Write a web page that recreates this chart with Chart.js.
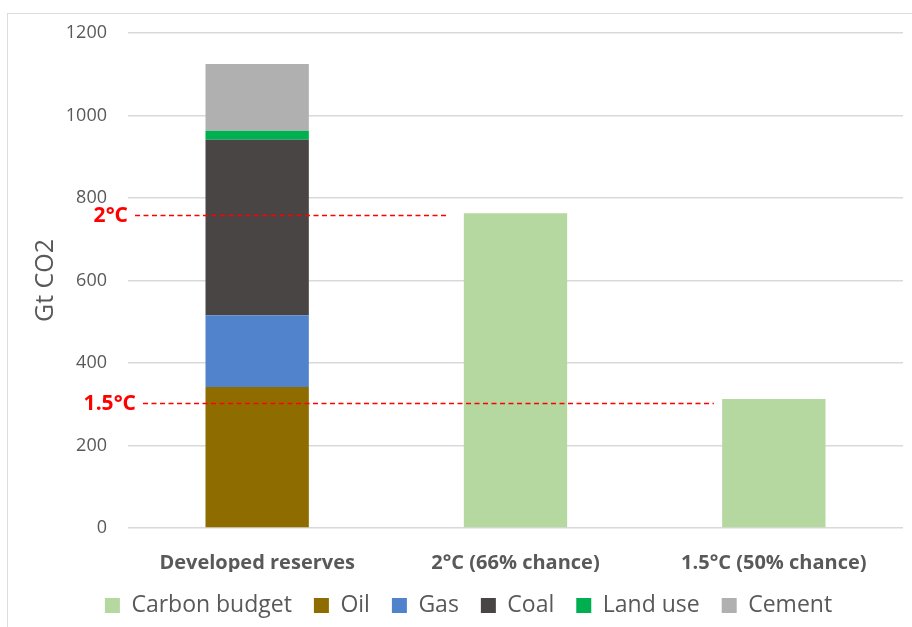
<!DOCTYPE html>
<html>
<head>
<meta charset="utf-8">
<script src="https://cdn.jsdelivr.net/npm/chart.js@4.4.1/dist/chart.umd.min.js"></script>
<style>
  html, body { margin: 0; padding: 0; background: #fff; }
  #wrap { position: relative; width: 912px; height: 627px; overflow: hidden; }
  /* thin frame round the chart, cut off at right and bottom */
  #frame { position: absolute; left: 7px; top: 13px; width: 1000px; height: 1000px;
           border-left: 1.5px solid #dcdcdc; border-top: 1.5px solid #dcdcdc; }
  #budgetChart { position: absolute; left: 0; top: 0; }
</style>
</head>
<body>
<div id="wrap">
  <div id="frame"></div>
  <canvas id="budgetChart" width="912" height="627"></canvas>
</div>
<script>
// categories and values (Gt CO2)
const categories = ['Developed reserves', '2°C (66% chance)', '1.5°C (50% chance)'];
const carbonBudget = [0, 763, 313];
const oil = [342, 0, 0];
const gas = [174, 0, 0];
const coal = [425, 0, 0];
const landUse = [22, 0, 0];
const cement = [162, 0, 0];

// warming thresholds drawn as dashed lines
const thresholdLabels = ['2°C', '1.5°C'];
const thresholdValues = [759, 304];

const yTicks = [0, 200, 400, 600, 800, 1000, 1200];

const textGrey = '#595959';
const baseFont = "'Open Sans', sans-serif";

// dashed red lines + labels on top of the bars
const thresholdPlugin = {
  id: 'thresholds',
  afterDatasetsDraw(chart) {
    const { ctx, chartArea, scales: { x, y } } = chart;
    // where each line stops: just before the bar it refers to
    const lineEnds = [x.getPixelForValue(1) - 68, x.getPixelForValue(2) - 60];
    const labelRight = [chartArea.left, chartArea.left + 8];
    ctx.save();
    thresholdValues.forEach((v, i) => {
      const py = Math.round(y.getPixelForValue(v)) + 0.5;
      ctx.font = "bold 21px 'Open Sans', sans-serif";
      ctx.fillStyle = '#ff0000';
      ctx.textAlign = 'right';
      ctx.textBaseline = 'middle';
      ctx.fillText(thresholdLabels[i], labelRight[i], py + 1);
      ctx.strokeStyle = '#ff0000';
      ctx.lineWidth = 1.6;
      ctx.setLineDash([5, 3.5]);
      ctx.beginPath();
      ctx.moveTo(labelRight[i] + 7, py);
      ctx.lineTo(lineEnds[i], py);
      ctx.stroke();
    });
    ctx.restore();
  }
};

const mk = (label, data, color) => ({
  label, data, backgroundColor: color, borderWidth: 0,
  categoryPercentage: 0.8, barPercentage: 0.5
});

new Chart(document.getElementById('budgetChart').getContext('2d'), {
  type: 'bar',
  data: {
    labels: categories,
    datasets: [
      mk('Carbon budget', carbonBudget, '#b5d7a0'),
      mk('Oil', oil, '#8f6c00'),
      mk('Gas', gas, '#5183cd'),
      mk('Coal', coal, '#494545'),
      mk('Land use', landUse, '#00b050'),
      mk('Cement', cement, '#b0b0b0')
    ]
  },
  options: {
    responsive: false,
    animation: false,
    layout: { padding: { left: 34, right: 9, top: 33, bottom: 0 } },
    plugins: {
      tooltip: { enabled: false },
      legend: {
        position: 'bottom',
        labels: {
          boxWidth: 15, boxHeight: 15, padding: 22,
          color: textGrey,
          font: { family: baseFont, size: 23 }
        }
      }
    },
    scales: {
      x: {
        stacked: true,
        grid: { display: false },
        border: { display: false },
        ticks: {
          color: textGrey, padding: 15,
          font: { family: baseFont, size: 20, weight: 'bold' }
        },
        afterFit: (s) => { s.height = 44; }
      },
      y: {
        stacked: true,
        min: 0, max: 1200,
        afterBuildTicks: (s) => { s.ticks = yTicks.map(v => ({ value: v })); },
        grid: { color: '#d9d9d9', lineWidth: 1.5, drawTicks: false },
        border: { display: false },
        ticks: {
          color: textGrey, padding: 21,
          font: { family: baseFont, size: 18 },
          callback: (v) => String(v)
        },
        title: {
          display: true, text: 'Gt CO2', color: textGrey,
          padding: { top: -1, bottom: 0 },
          font: { family: baseFont, size: 25, lineHeight: 1 }
        },
        afterFit: (s) => { s.width = 94; }
      }
    }
  },
  plugins: [thresholdPlugin]
});
</script>
</body>
</html>
